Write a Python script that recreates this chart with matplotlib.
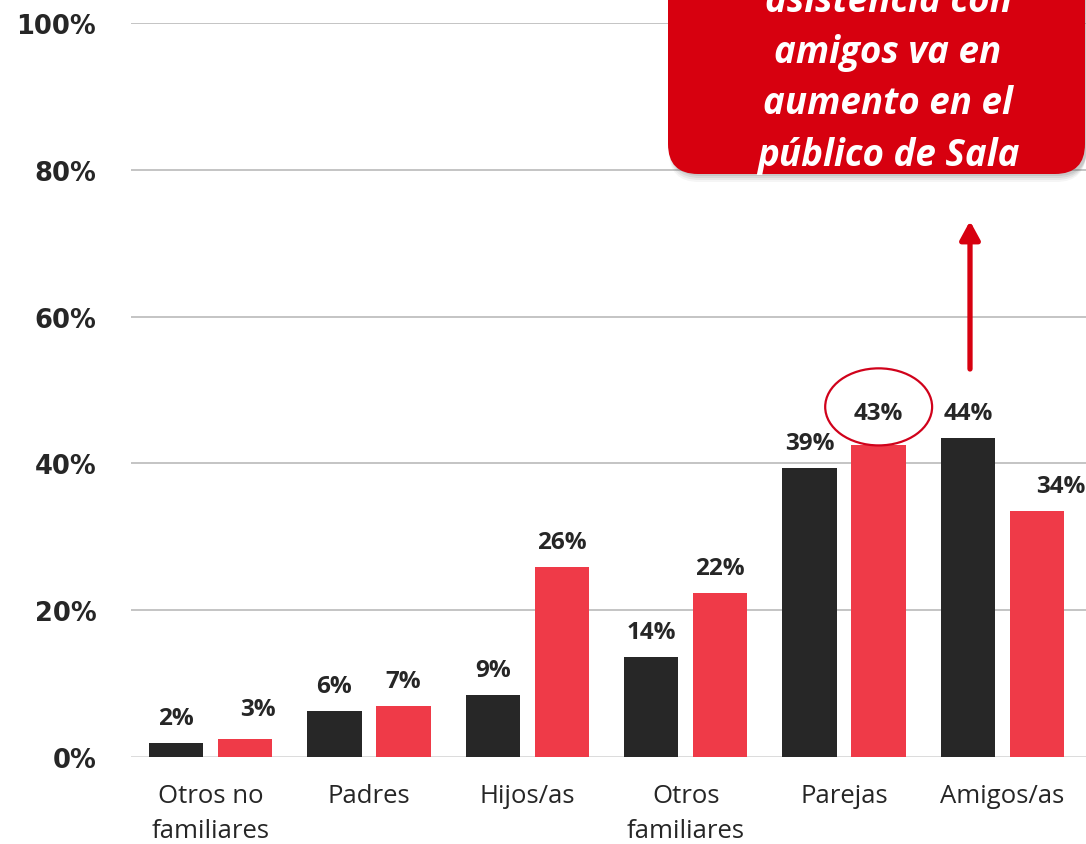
import matplotlib
matplotlib.use("Agg")
import matplotlib.pyplot as plt
from matplotlib.patches import FancyBboxPatch, Ellipse
import numpy as np

# ---- data ----
categories = ["Otros no\nfamiliares", "Padres", "Hijos/as", "Otros\nfamiliares", "Parejas", "Amigos/as"]
serie_a = [1.9, 6.3, 8.5, 13.6, 39.4, 43.5]     # dark bars
serie_b = [2.45, 7.0, 25.9, 22.3, 42.5, 33.5]   # red bars
labels_a = ["2%", "6%", "9%", "14%", "39%", "44%"]
labels_b = ["3%", "7%", "26%", "22%", "43%", "34%"]
yticks = [0, 20, 40, 60, 80, 100]
ytick_labels = ["0%", "20%", "40%", "60%", "80%", "100%"]
callout_lines = ["asistencia con", "amigos va en", "aumento en el", "público de Sala"]

# ---- style ----
DARK = "#272727"
RED = "#EF3A48"
BOX_RED = "#D7000F"
TXT = "#262626"
W, H, DPI = 1086, 845, 100

fig = plt.figure(figsize=(W / DPI, H / DPI), dpi=DPI)
fig.patch.set_facecolor("white")
ax = fig.add_axes([131 / W, (H - 758) / H, (W - 131) / W, (758 - 24) / H])

x = np.arange(len(categories))
bw = 0.344
off = 0.218
ax.bar(x - off, serie_a, width=bw, color=DARK, zorder=3)
ax.bar(x + off, serie_b, width=bw, color=RED, zorder=3)

ax.set_xlim(-0.502, 5.527)
ax.set_ylim(0, 100)
ax.set_yticks(yticks)
ax.set_yticklabels(ytick_labels, fontsize=18.5, fontweight="bold", color=TXT, family="DejaVu Sans")
ax.set_xticks(x)
ax.set_xticklabels(categories, fontsize=18.5, color=TXT, family="Open Sans", linespacing=1.5)
ax.tick_params(axis="y", length=0, pad=25)
ax.tick_params(axis="x", length=0, pad=19)
for s in ax.spines.values():
    s.set_visible(False)
ax.grid(axis="y", color="#BFBFBF", linewidth=1.3, zorder=0)
ax.get_ygridlines()[0].set_color("#D9D9D9")
ax.set_axisbelow(True)

# value labels (offsets in pixels -> points)
px = 72 / DPI
dx_a = [0, 0, 0, 0, 0, 0]
dy_a = [0, 0, 0, 0, 0, 0]
dx_b = [13, 0, 0, 0, 0, 24]
dy_b = [5, 0, 0, 0, 7, 0]
for i in range(len(categories)):
    ax.annotate(labels_a[i], (x[i] - off, serie_a[i]), xytext=(dx_a[i] * px, (19 + dy_a[i]) * px),
                textcoords="offset points", ha="center", va="baseline", fontsize=17.5,
                fontweight="bold", color=TXT, family="Open Sans", annotation_clip=False)
    ax.annotate(labels_b[i], (x[i] + off, serie_b[i]), xytext=(dx_b[i] * px, (19 + dy_b[i]) * px),
                textcoords="offset points", ha="center", va="baseline", fontsize=17.5,
                fontweight="bold", color=TXT, family="Open Sans", annotation_clip=False)

# ellipse around 43%
ax.add_patch(Ellipse((4 + off, 47.7), 0.675, 10.5, fill=False, edgecolor="#D0021B",
                     linewidth=1.6, zorder=5, clip_on=False))

# overlay in pixel coordinates for callout
ov = fig.add_axes([0, 0, 1, 1], zorder=10)
ov.set_xlim(0, W)
ov.set_ylim(H, 0)
ov.axis("off")
ov.patch.set_alpha(0)

for k, a in enumerate([0.06, 0.08, 0.10, 0.12]):
    sh = FancyBboxPatch((668 + 1 + k * 0.5, -60), 417, 235 + 8 - k * 2,
                        boxstyle="round,pad=0,rounding_size=30",
                        facecolor="#555555", edgecolor="none", alpha=a)
    ov.add_patch(sh)
box = FancyBboxPatch((668, -60), 417, 235, boxstyle="round,pad=0,rounding_size=30",
                     facecolor=BOX_RED, edgecolor="none")
ov.add_patch(box)
baselines = [12, 63, 114, 166]
for line, yb in zip(callout_lines, baselines):
    ov.text(888, yb, line, ha="center", va="baseline", fontsize=26.5, fontweight="bold",
            fontstyle="italic", color="white", family="Open Sans")

ov.annotate("", xy=(970, 222), xytext=(970, 370),
            arrowprops=dict(arrowstyle="-|>,head_length=1.1,head_width=0.6", color="#D7000F",
                            linewidth=3.8, shrinkA=0, shrinkB=0))

fig.savefig("out.png", dpi=DPI)
